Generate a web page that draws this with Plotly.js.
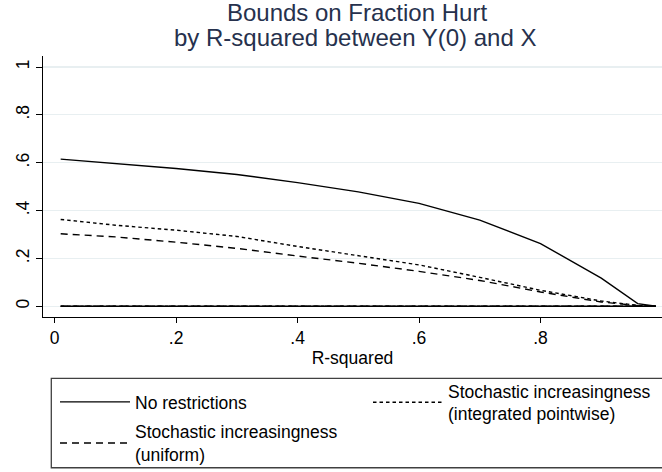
<!DOCTYPE html>
<html>
<head>
<meta charset="utf-8">
<script src="https://cdn.plot.ly/plotly-3.0.1.min.js"></script>
<style>html,body{margin:0;padding:0;background:#fff;}#chart{width:662px;height:472px;}</style>
</head>
<body>
<div id="chart"></div>
<script>
// R-squared grid
const rsq = [0.01, 0.1, 0.2, 0.3, 0.4, 0.5, 0.6, 0.7, 0.8, 0.9, 0.96, 0.99];
// Upper bounds
const upperNoRestr = [0.615, 0.597, 0.576, 0.551, 0.517, 0.478, 0.430, 0.360, 0.262, 0.118, 0.011, 0.0];
const upperIntegrated = [0.363, 0.339, 0.318, 0.292, 0.250, 0.212, 0.173, 0.121, 0.067, 0.022, 0.004, 0.0];
const upperUniform = [0.303, 0.290, 0.268, 0.242, 0.210, 0.180, 0.146, 0.108, 0.060, 0.018, 0.003, 0.0];
// Lower bounds (all zero)
const lowerNoRestr = [0, 0, 0, 0, 0, 0, 0, 0, 0, 0, 0, 0];
const lowerIntegrated = [0, 0, 0, 0, 0, 0, 0, 0, 0, 0, 0, 0];
const lowerUniform = [0, 0, 0, 0, 0, 0, 0, 0, 0, 0, 0, 0];

const seriesNames = ["No restrictions", "Stochastic increasingness<br>(integrated pointwise)", "Stochastic increasingness<br>(uniform)"];
const yTickVals = [0, 0.2, 0.4, 0.6, 0.8, 1];
const yTickText = ["0", ".2", ".4", ".6", ".8", "1"];
const xTickVals = [0, 0.2, 0.4, 0.6, 0.8, 1];
const xTickText = ["0", ".2", ".4", ".6", ".8", "1"];
const titleLine1 = "Bounds on Fraction Hurt";
const titleLine2 = "by R-squared between Y(0) and X";

const FONT = "Liberation Sans, Arial, Helvetica, sans-serif";
const lw = 1.4;
const styles = [
  {color: "#000", width: lw, dash: "solid"},
  {color: "#000", width: lw, dash: "3.5px,3px"},
  {color: "#000", width: lw, dash: "7px,5px"}
];
const legendIds = ["legend", "legend2", "legend"];
const groups = ["g1", "g3", "g2"];
const uppers = [upperNoRestr, upperIntegrated, upperUniform];
const lowers = [lowerNoRestr, lowerIntegrated, lowerUniform];

const traces = [];
for (let i = 0; i < 3; i++) {
  traces.push({x: rsq, y: uppers[i], type: "scatter", mode: "lines", name: seriesNames[i],
    line: styles[i], showlegend: true, legend: legendIds[i], legendgroup: groups[i], hoverinfo: "skip"});
}
for (let i = 0; i < 3; i++) {
  traces.push({x: rsq, y: lowers[i], type: "scatter", mode: "lines", name: seriesNames[i],
    line: styles[i], showlegend: false, legend: legendIds[i], legendgroup: groups[i], hoverinfo: "skip"});
}

const W = 662, H = 472, L = 42.7, T = 56, B = 155.3;
const PW = W - L, PH = H - T - B;
const legFont = {family: FONT, size: 17.5, color: "#000"};

const layout = {
  width: W, height: H,
  margin: {l: L, r: 0, t: T, b: B, pad: 0, autoexpand: false},
  paper_bgcolor: "#fff", plot_bgcolor: "#fff",
  font: {family: FONT, size: 17.5, color: "#000"},
  title: {text: titleLine1, x: 357 / W, xref: "container", xanchor: "center",
    y: 1 - 12.5 / H, yref: "container", yanchor: "middle",
    font: {family: FONT, size: 24, color: "#26314d"}},
  annotations: [
    {text: titleLine2, xref: "paper", yref: "paper", x: (355 - L) / PW, y: 1 + (56 - 38) / PH,
      xanchor: "center", yanchor: "middle", showarrow: false,
      font: {family: FONT, size: 24, color: "#26314d"}}
  ],
  shapes: [
    {type: "rect", xref: "paper", yref: "paper",
      x0: (51 - L) / PW, x1: (670 - L) / PW, y0: (316.7 - 467.3) / PH, y1: (316.7 - 378) / PH,
      line: {color: "#404040", width: 1.3}, fillcolor: "rgba(0,0,0,0)", layer: "below"}
  ],
  xaxis: {
    range: [-0.0191, 1.0], tickvals: xTickVals, ticktext: xTickText,
    showgrid: false, zeroline: false, showline: true, linecolor: "#000", linewidth: 1,
    ticks: "outside", ticklen: 5, tickcolor: "#000", tickwidth: 1,
    tickfont: {family: FONT, size: 17.5, color: "#000"},
    title: {text: "R-squared", font: {family: FONT, size: 17.5, color: "#000"}, standoff: 4}
  },
  yaxis: {
    range: [-0.0447, 1.046], tickvals: yTickVals, ticktext: yTickText, tickangle: -90,
    showgrid: true, gridcolor: "#e8eff1", gridwidth: 1.2, zeroline: false,
    showline: true, linecolor: "#000", linewidth: 1,
    ticks: "outside", ticklen: 6, tickcolor: "#000", tickwidth: 1,
    tickfont: {family: FONT, size: 17.5, color: "#000"}
  },
  showlegend: true,
  legend: {
    orientation: "v", xref: "container", yref: "container",
    x: 55 / W, xanchor: "left", y: 1 - 384 / H, yanchor: "top",
    borderwidth: 0, bgcolor: "rgba(0,0,0,0)", font: legFont,
    itemwidth: 70, traceorder: "grouped", tracegroupgap: 4
  },
  legend2: {
    orientation: "v", xref: "container", yref: "container",
    x: 368 / W, xanchor: "left", y: 1 - 373 / H, yanchor: "top",
    borderwidth: 0, bgcolor: "rgba(0,0,0,0)", font: legFont,
    itemwidth: 70
  }
};

Plotly.newPlot("chart", traces, layout, {staticPlot: true, displayModeBar: false});
</script>
</body>
</html>
